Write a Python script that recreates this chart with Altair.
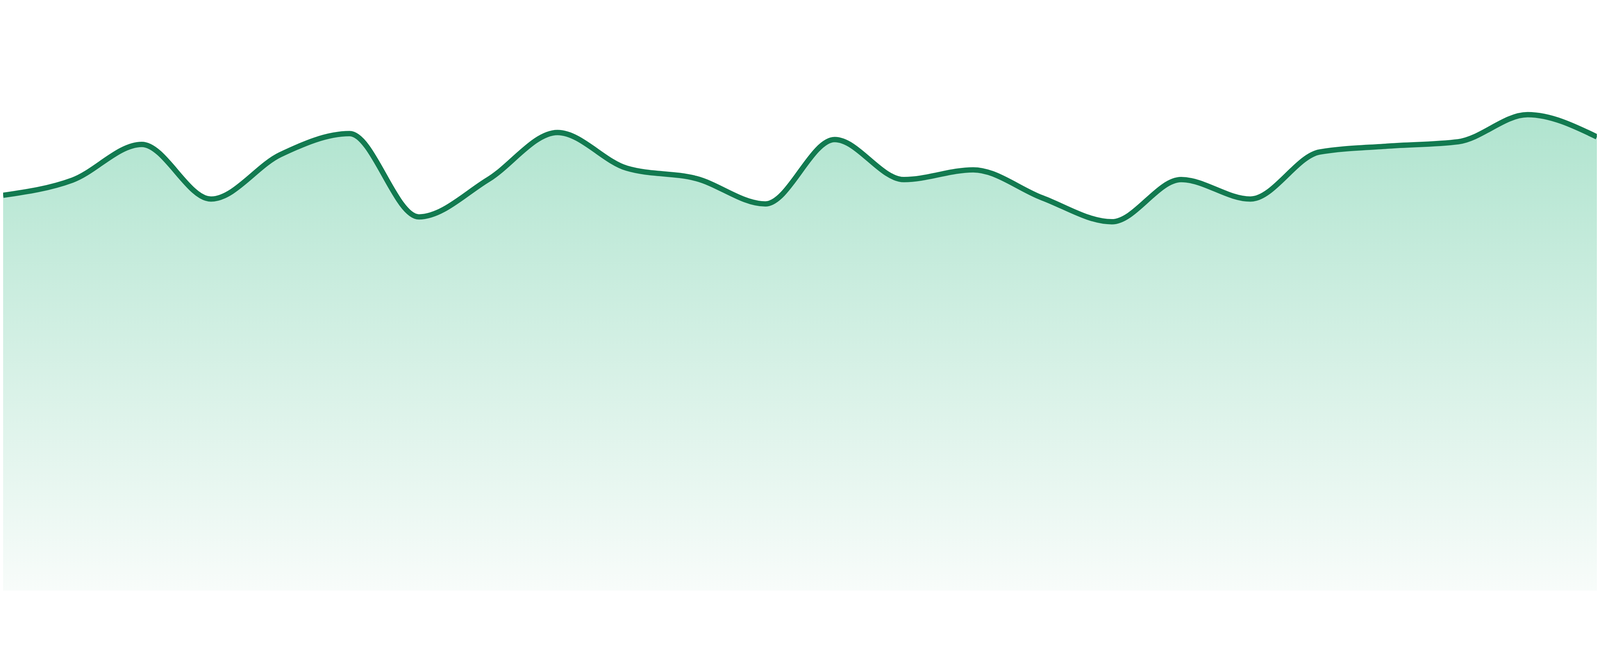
import altair as alt
import pandas as pd

# one reading per step
steps = list(range(24))
values = [
    73.1, 75.9, 82.5, 72.4, 80.6, 84.5, 69.1, 76.0,
    84.7, 78.1, 76.2, 71.5, 83.4, 76.0, 77.8, 72.6,
    68.2, 76.0, 72.4, 81.1, 82.2, 83.0, 88.0, 83.9,
]

df = pd.DataFrame({"step": steps, "value": values})

x = alt.X("step:Q", axis=None, scale=alt.Scale(domain=[0, 23], nice=False, zero=False))
y = alt.Y("value:Q", axis=None, scale=alt.Scale(domain=[0, 100], nice=False))

fill = alt.Gradient(
    gradient="linear",
    stops=[
        alt.GradientStop(color="#b0e4cf", offset=0),
        alt.GradientStop(color="#f8fcfa", offset=1),
    ],
    x1=1,
    x2=1,
    y1=0,
    y2=1,
)

area = alt.Chart(df).mark_area(interpolate="monotone", color=fill).encode(x=x, y=y)
line = (
    alt.Chart(df)
    .mark_line(interpolate="monotone", color="#127a50", strokeWidth=16)
    .encode(x=x, y=y)
)

chart = (
    alt.layer(area, line)
    .properties(width=4784, height=1624, padding=0, autosize=alt.AutoSizeParams(type="none"))
    .configure_view(strokeWidth=0)
)

chart.save("out.html", embed_options={"renderer": "svg", "actions": False})
